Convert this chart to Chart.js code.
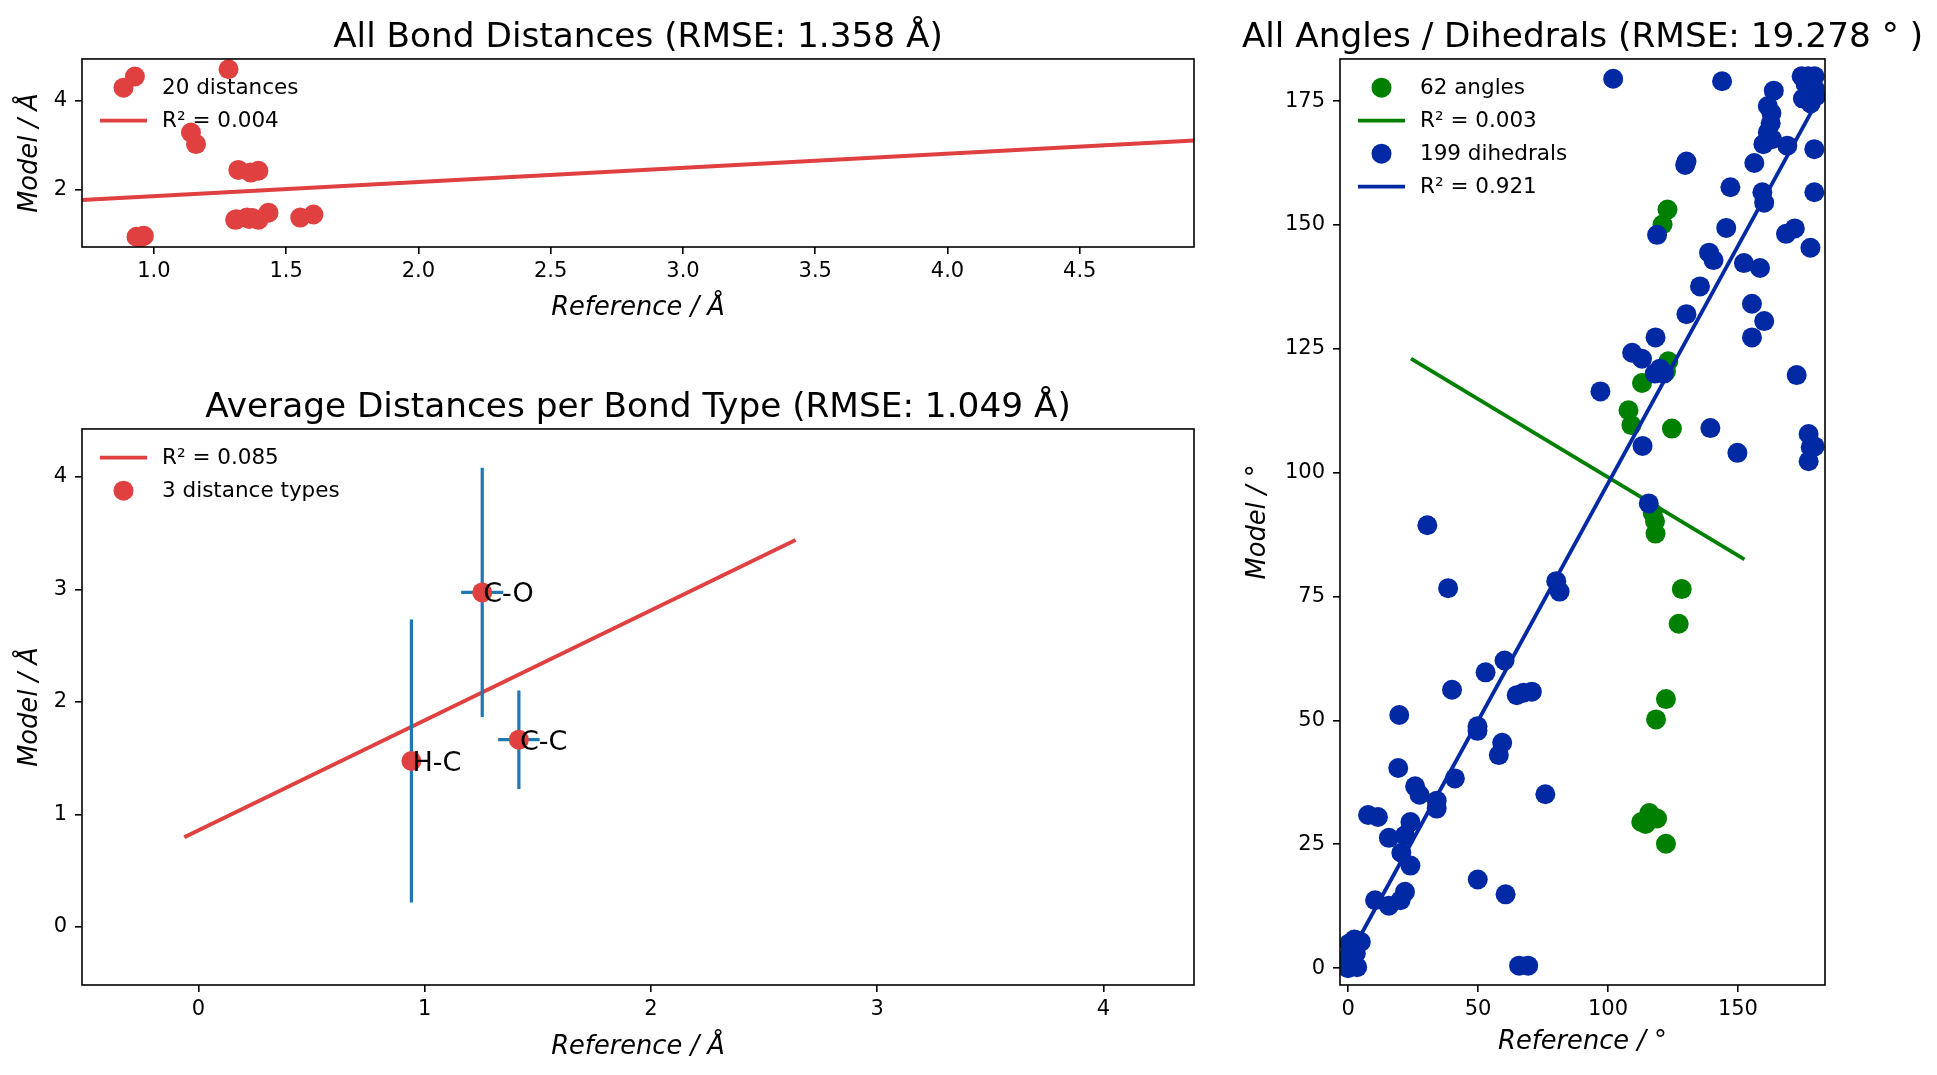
<!DOCTYPE html>
<html>
<head>
<meta charset="utf-8">
<title>Bond distances and angles</title>
<script src="https://cdn.jsdelivr.net/npm/chart.js@4.4.1/dist/chart.umd.min.js"></script>
<style>
    html, body { margin: 0; padding: 0; background: #fff; width: 1937px; height: 1075px; overflow: hidden; }
    .panel { position: absolute; }
</style>
</head>
<body>
<div class="panel" style="left:0;top:0;width:1276px;height:330px"><canvas id="bond-chart"></canvas></div>
<div class="panel" style="left:0;top:370px;width:1276px;height:705px"><canvas id="type-chart"></canvas></div>
<div class="panel" style="left:1236px;top:0;width:693px;height:1075px"><canvas id="angle-chart"></canvas></div>
<script>
// ---- data ----

// all bond distances (Angstrom)
const bondRef   = [0.928, 1.282, 1.140, 1.159, 1.319, 1.366, 1.395, 0.934, 0.962, 0.948, 1.307, 1.351, 1.395, 1.433, 1.553, 1.603, 0.955, 1.360, 1.372, 1.312];
const bondModel = [4.546, 4.710, 3.290, 3.030, 2.450, 2.390, 2.430, 0.950, 0.970, 0.935, 1.330, 1.380, 1.330, 1.490, 1.380, 1.450, 0.960, 1.350, 1.370, 1.340];
const bondFitX = [0.728, 4.932];
const bondFitY = [1.775, 3.110];

// averages per bond type
const bondTypes    = ['H-C', 'C-O', 'C-C'];
const typeRef      = [0.941, 1.254, 1.416];
const typeModel    = [1.475, 2.974, 1.665];
const typeRefErr   = [0.010, 0.093, 0.092];
const typeModelErr = [1.258, 1.108, 0.438];
const typeFitX = [-0.063, 2.639];
const typeFitY = [0.797, 3.440];

// angles (degrees)
const angleRef   = [118.3, 118.1, 117.2, 128.4, 127.2, 122.3, 118.5, 115.9, 112.8, 118.9, 114.5, 122.3, 122.9, 121.0, 123.2, 122.3, 113.1, 107.9, 109.0, 124.6];
const angleModel = [87.7, 90.2, 91.9, 76.5, 69.5, 54.3, 50.2, 31.3, 29.5, 30.2, 29.1, 25.1, 153.1, 150.1, 122.5, 120.4, 118.1, 112.6, 109.6, 108.9];
const angleFitX = [24.2, 152.5];
const angleFitY = [123.0, 82.5];

// dihedrals (degrees)
const dihedralRef = [
    102.0, 143.9, 174.5, 177.0, 179.5, 175.0, 177.5, 179.5, 178.0, 180.0, 176.0, 163.8, 161.5, 162.9, 162.6,
    161.5, 159.8, 163.2, 169.0, 179.4, 129.7, 130.2, 156.3, 147.1, 159.4, 160.1, 179.4, 145.5, 118.9, 168.5,
    171.9, 177.9, 138.9, 140.6, 152.3, 158.5, 135.4, 130.2, 155.4, 160.1, 155.4, 118.3, 109.3, 113.1, 118.0,
    121.5, 120.0, 172.6, 97.1, 139.4, 177.2, 178.0, 177.2, 179.5, 113.3, 149.8, 115.7, 30.5,
    38.5, 80.1, 81.4, 60.2, 52.9, 40.0, 64.9, 67.5, 70.7, 19.7, 49.8, 49.8, 59.3, 58.0, 19.3, 41.1, 25.8,
    27.5, 75.9, 34.1, 34.1, 7.7, 11.5, 24.0, 15.7, 21.9, 20.5, 24.0, 49.9, 21.9, 60.6, 10.4, 15.7, 20.2,
    65.8, 69.3, 4.9, 0.0, 1.0, 2.0, 0.5, 1.5, 3.0, 0.5, 2.5, 3.5, 0.2, 2.0, 1.0, 3.5
];
const dihedralModel = [
    179.5, 179.0, 180.0, 180.0, 180.0, 175.5, 177.0, 177.5, 174.5, 176.0, 178.5, 177.1, 174.0, 172.6, 170.5,
    168.7, 166.3, 167.3, 166.0, 165.3, 162.1, 162.8, 162.5, 157.6, 156.6, 154.5, 156.6, 149.4, 148.0, 148.2,
    149.3, 145.4, 144.4, 142.9, 142.3, 141.3, 137.6, 132.0, 134.1, 130.6, 127.3, 127.3, 124.2, 123.0, 120.0,
    120.0, 121.0, 119.7, 116.4, 109.0, 107.8, 105.1, 102.3, 105.3, 105.4, 104.0, 93.8, 89.4,
    76.7, 78.1, 76.0, 62.1, 59.7, 56.2, 55.1, 55.6, 55.8, 51.1, 48.8, 47.9, 45.5, 43.0, 40.4, 38.3, 36.7,
    35.0, 35.1, 33.8, 32.2, 30.9, 30.5, 29.5, 26.3, 26.8, 23.3, 20.7, 17.9, 15.4, 14.9, 13.7, 12.6, 13.7,
    0.5, 0.5, 5.3, 0.0, 1.0, 0.4, 2.5, 4.0, 3.0, 5.0, 5.8, 0.2, 1.5, 2.0, 3.5, 5.5
];
const dihedralFitX = [0, 180];
const dihedralFitY = [2.0, 174.5];

// tick labels
const bondTicksX  = [1.0, 1.5, 2.0, 2.5, 3.0, 3.5, 4.0, 4.5];
const bondTicksY  = [2, 4];
const typeTicksX  = [0, 1, 2, 3, 4];
const typeTicksY  = [0, 1, 2, 3, 4];
const angleTicksX = [0, 50, 100, 150];
const angleTicksY = [0, 25, 50, 75, 100, 125, 150, 175];

// ---- styling ----
const RED = '#e04040';
const GREEN = '#008000';
const BLUE = '#0029a3';
const ERR_BLUE = '#1f77b4';
const FONT = 'DejaVu Sans';
const LINE_W = 3.8;

Chart.defaults.font.family = FONT;
Chart.defaults.color = '#000';

function toPoints(xs, ys) {
    return xs.map((x, i) => ({ x: x, y: ys[i] }));
}

function scatterSet(label, xs, ys, color, order) {
    return {
        type: 'scatter', label: label, data: toPoints(xs, ys), order: order,
        backgroundColor: color, borderWidth: 0, pointRadius: 10, pointHoverRadius: 10, clip: 0
    };
}

function fitSet(label, xs, ys, color, order) {
    return {
        type: 'line', label: label, data: toPoints(xs, ys), order: order, showLine: true,
        borderColor: color, borderWidth: LINE_W, pointRadius: 0, fill: false, tension: 0, clip: 0
    };
}

// one linear axis with fixed size so the plot box lands where the figure has it
function makeAxis(pos, min, max, ticks, fmt, size, title, titlePad) {
    const horizontal = pos === 'bottom';
    return {
        type: 'linear', position: pos, min: min, max: max,
        afterBuildTicks: s => { s.ticks = ticks.map(v => ({ value: v })); },
        afterFit: s => { if (horizontal) s.height = size; else s.width = size; },
        ticks: { callback: fmt, font: { size: 21 }, color: '#000', padding: horizontal ? 5 : 8, maxRotation: 0, autoSkip: false },
        grid: { drawOnChartArea: false, drawTicks: true, tickLength: 7, color: '#000', lineWidth: 1.6 },
        border: { display: false },
        title: {
            display: true, text: title, color: '#000',
            font: { size: 25.7, style: 'italic' },
            padding: horizontal ? { top: 0, bottom: titlePad } : { top: titlePad, bottom: 0 }
        }
    };
}

// empty axis on the right, only keeps the title centred over the plot
function spacerAxis(width) {
    return {
        type: 'linear', position: 'right', display: true, min: 0, max: 1,
        afterFit: s => { s.width = width; },
        ticks: { display: false }, grid: { display: false }, border: { display: false }
    };
}

function titleOpts(text) {
    return {
        display: true, text: text, color: '#000',
        font: { size: 34.3, weight: 'normal' },
        padding: { top: 17.8, bottom: 0 }
    };
}

// black box round the plot area
const framePlugin = {
    id: 'frame',
    afterDraw(chart) {
        const a = chart.chartArea;
        const ctx = chart.ctx;
        ctx.save();
        ctx.strokeStyle = '#000';
        ctx.lineWidth = 1.6;
        ctx.strokeRect(a.left, a.top, a.right - a.left, a.bottom - a.top);
        ctx.restore();
    }
};

// legend drawn inside the plot, in dataset order
const insideLegend = {
    id: 'insideLegend',
    afterDatasetsDraw(chart) {
        const a = chart.chartArea;
        const ctx = chart.ctx;
        ctx.save();
        ctx.font = '21.5px "' + FONT + '"';
        ctx.textBaseline = 'middle';
        chart.data.datasets.forEach((ds, i) => {
            const y = a.top + 28.7 + i * 33;
            const x0 = a.left + 18;
            if (ds.showLine) {
                ctx.strokeStyle = ds.borderColor;
                ctx.lineWidth = LINE_W;
                ctx.beginPath();
                ctx.moveTo(x0, y);
                ctx.lineTo(x0 + 47, y);
                ctx.stroke();
            } else {
                ctx.fillStyle = ds.backgroundColor;
                ctx.beginPath();
                ctx.arc(x0 + 23.5, y, 10, 0, Math.PI * 2);
                ctx.fill();
            }
            ctx.fillStyle = '#000';
            ctx.fillText(ds.label, a.left + 80, y + 1);
        });
        ctx.restore();
    }
};

// error bars under the bond-type markers, plus the bond labels
const errorBars = {
    id: 'errorBars',
    beforeDatasetDraw(chart, args) {
        if (args.index !== 1) return;
        const xs = chart.scales.x, ys = chart.scales.y;
        const ctx = chart.ctx;
        ctx.save();
        ctx.strokeStyle = ERR_BLUE;
        ctx.lineWidth = 3.2;
        typeRef.forEach((r, i) => {
            const m = typeModel[i];
            const px = xs.getPixelForValue(r), py = ys.getPixelForValue(m);
            ctx.beginPath();
            ctx.moveTo(px, ys.getPixelForValue(m - typeModelErr[i]));
            ctx.lineTo(px, ys.getPixelForValue(m + typeModelErr[i]));
            ctx.moveTo(xs.getPixelForValue(r - typeRefErr[i]), py);
            ctx.lineTo(xs.getPixelForValue(r + typeRefErr[i]), py);
            ctx.stroke();
        });
        ctx.restore();
    },
    afterDatasetsDraw(chart) {
        const xs = chart.scales.x, ys = chart.scales.y;
        const ctx = chart.ctx;
        ctx.save();
        ctx.font = '27px "' + FONT + '"';
        ctx.fillStyle = '#000';
        ctx.textBaseline = 'middle';
        bondTypes.forEach((name, i) => {
            ctx.fillText(name, xs.getPixelForValue(typeRef[i]) + 1, ys.getPixelForValue(typeModel[i]) + 3);
        });
        ctx.restore();
    }
};

const baseOptions = {
    responsive: true,
    maintainAspectRatio: false,
    animation: false,
    events: []
};

// ---- all bond distances ----
new Chart(document.getElementById('bond-chart'), {
    data: {
        datasets: [
            scatterSet(bondRef.length + ' distances', bondRef, bondModel, RED, 2),
            fitSet('R\u00b2 = 0.004', bondFitX, bondFitY, RED, 1)
        ]
    },
    options: Object.assign({}, baseOptions, {
        layout: { padding: 0 },
        scales: {
            x: makeAxis('bottom', 0.728, 4.932, bondTicksX, v => v.toFixed(1), 83, 'Reference / \u00c5', 6.5),
            y: makeAxis('left', 0.72, 4.94, bondTicksY, v => String(v), 82, 'Model / \u00c5', 15),
            pad: spacerAxis(82)
        },
        plugins: { legend: { display: false }, tooltip: { enabled: false }, title: titleOpts('All Bond Distances (RMSE: 1.358 \u00c5)') }
    }),
    plugins: [framePlugin, insideLegend]
});

// ---- averages per bond type ----
new Chart(document.getElementById('type-chart'), {
    data: {
        datasets: [
            fitSet('R\u00b2 = 0.085', typeFitX, typeFitY, RED, 2),
            scatterSet(bondTypes.length + ' distance types', typeRef, typeModel, RED, 1)
        ]
    },
    options: Object.assign({}, baseOptions, {
        layout: { padding: 0 },
        scales: {
            x: makeAxis('bottom', -0.515, 4.40, typeTicksX, v => String(v), 90, 'Reference / \u00c5', 12.5),
            y: makeAxis('left', -0.516, 4.427, typeTicksY, v => String(v), 82, 'Model / \u00c5', 15),
            pad: spacerAxis(82)
        },
        plugins: { legend: { display: false }, tooltip: { enabled: false }, title: titleOpts('Average Distances per Bond Type (RMSE: 1.049 \u00c5)') }
    }),
    plugins: [framePlugin, insideLegend, errorBars]
});

// ---- angles and dihedrals ----
new Chart(document.getElementById('angle-chart'), {
    data: {
        datasets: [
            scatterSet('62 angles', angleRef, angleModel, GREEN, 4),
            fitSet('R\u00b2 = 0.003', angleFitX, angleFitY, GREEN, 3),
            scatterSet('199 dihedrals', dihedralRef, dihedralModel, BLUE, 2),
            fitSet('R\u00b2 = 0.921', dihedralFitX, dihedralFitY, BLUE, 1)
        ]
    },
    options: Object.assign({}, baseOptions, {
        layout: { padding: 0 },
        scales: {
            x: makeAxis('bottom', -3.1, 183.5, angleTicksX, v => String(v), 90, 'Reference / \u00b0', 17),
            y: makeAxis('left', -3.4, 183.5, angleTicksY, v => String(v), 104, 'Model / \u00b0', 7),
            pad: spacerAxis(104)
        },
        plugins: { legend: { display: false }, tooltip: { enabled: false }, title: titleOpts('All Angles / Dihedrals (RMSE: 19.278 \u00b0 )') }
    }),
    plugins: [framePlugin, insideLegend]
});
</script>
</body>
</html>
